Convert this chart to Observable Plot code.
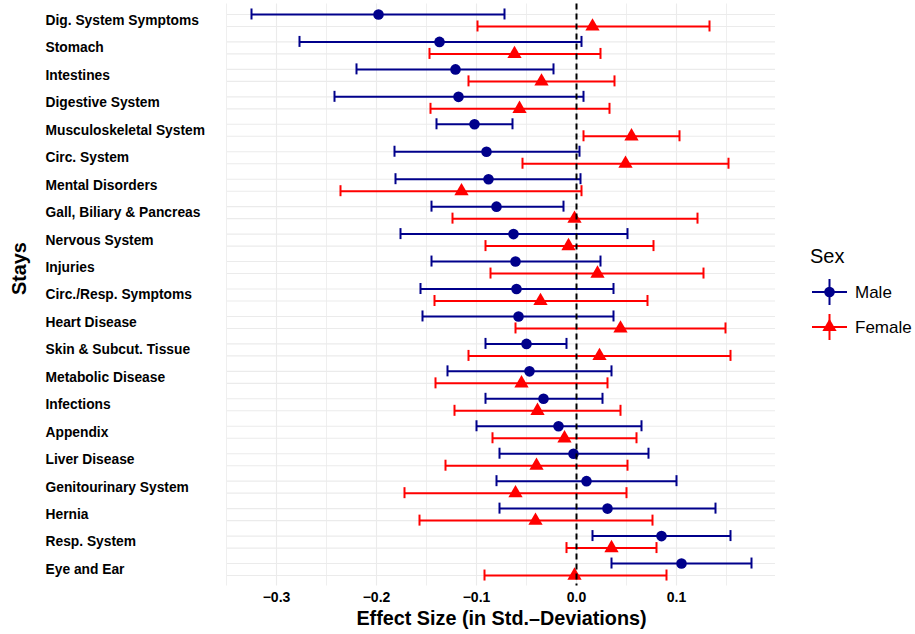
<!DOCTYPE html>
<html><head><meta charset="utf-8">
<script src="https://cdn.jsdelivr.net/npm/d3@7"></script>
<script src="https://cdn.jsdelivr.net/npm/@observablehq/plot@0.6"></script>
<style>
body{margin:0;background:#fff;font-family:"Liberation Sans",Arial,Helvetica,sans-serif}
#wrap{position:relative;width:915px;height:634px}
</style>
</head><body><div id="wrap"></div>
<script>
const categories = ["Dig. System Symptoms","Stomach","Intestines","Digestive System","Musculoskeletal System","Circ. System","Mental Disorders","Gall, Biliary & Pancreas","Nervous System","Injuries","Circ./Resp. Symptoms","Heart Disease","Skin & Subcut. Tissue","Metabolic Disease","Infections","Appendix","Liver Disease","Genitourinary System","Hernia","Resp. System","Eye and Ear"];
const maleEst  = [-0.198,-0.137,-0.121,-0.118,-0.102,-0.090,-0.088,-0.080,-0.063,-0.061,-0.060,-0.058,-0.050,-0.047,-0.033,-0.018,-0.003,0.010,0.031,0.085,0.105];
const maleLow  = [-0.325,-0.277,-0.220,-0.242,-0.140,-0.182,-0.181,-0.145,-0.176,-0.145,-0.156,-0.154,-0.091,-0.129,-0.091,-0.100,-0.077,-0.080,-0.077,0.016,0.035];
const maleHigh = [-0.072,0.005,-0.023,0.007,-0.064,0.003,0.004,-0.013,0.051,0.024,0.037,0.037,-0.010,0.035,0.026,0.065,0.072,0.100,0.139,0.154,0.175];
const femaleEst  = [0.016,-0.062,-0.035,-0.057,0.055,0.049,-0.115,-0.002,-0.008,0.021,-0.036,0.044,0.023,-0.055,-0.039,-0.012,-0.040,-0.061,-0.041,0.035,-0.002];
const femaleLow  = [-0.099,-0.147,-0.108,-0.146,0.007,-0.054,-0.236,-0.124,-0.091,-0.086,-0.142,-0.061,-0.108,-0.141,-0.122,-0.084,-0.131,-0.172,-0.157,-0.010,-0.092];
const femaleHigh = [0.133,0.024,0.038,0.033,0.103,0.152,0.005,0.121,0.077,0.127,0.071,0.149,0.154,0.031,0.044,0.060,0.051,0.050,0.076,0.080,0.090];
const xTicks = [-0.3,-0.2,-0.1,0.0,0.1];
const xMinor = [-0.35,-0.25,-0.15,-0.05,0.05,0.15];
const seriesNames = ["Male","Female"];
const seriesColors = ["#00008B","#FF0000"];
const seriesSymbols = ["circle","triangle"];

const male = categories.map((c,i)=>({cat:c, est:maleEst[i], lo:maleLow[i], hi:maleHigh[i]}));
const female = categories.map((c,i)=>({cat:c, est:femaleEst[i], lo:femaleLow[i], hi:femaleHigh[i]}));

const W = 915, H = 634, mL = 227, mR = 140, mT = 3.5, mB = 48.5;
const band = (H - mT - mB) / (categories.length + 0.2);
const DODGE = 6;
const capH = 11;
const capInset = (band - capH) / 2;
const font = "'Liberation Sans', Arial, Helvetica, sans-serif";

function seriesMarks(data, k, dy){
  const col = seriesColors[k];
  return [
    Plot.ruleY(data, {y:"cat", x1:"lo", x2:"hi", dy, stroke:col, strokeWidth:2}),
    Plot.tickX(data, {x:"lo", y:"cat", dy, stroke:col, strokeWidth:2, insetTop:capInset, insetBottom:capInset}),
    Plot.tickX(data, {x:"hi", y:"cat", dy, stroke:col, strokeWidth:2, insetTop:capInset, insetBottom:capInset})
  ];
}

const chart = Plot.plot({
  width: W, height: H,
  marginLeft: mL, marginRight: mR, marginTop: mT, marginBottom: mB,
  style: {fontFamily: font, background: "#fff", overflow: "visible"},
  x: {domain: [-0.349, 0.199], axis: null},
  y: {type: "band", domain: categories, paddingInner: 0, paddingOuter: 0.1, round: false, axis: null},
  marks: [
    Plot.ruleX(xMinor, {x: d=>d, stroke: "#ebebeb", strokeWidth: 0.8}),
    Plot.ruleX(xTicks, {x: d=>d, stroke: "#ebebeb", strokeWidth: 1.1}),
    Plot.ruleY(categories, {y: d=>d, dy: -DODGE, stroke: "#ebebeb", strokeWidth: 1.1}),
    Plot.ruleY(categories, {y: d=>d, dy: DODGE, stroke: "#ebebeb", strokeWidth: 1.1}),
    ...seriesMarks(male, 0, -DODGE),
    ...seriesMarks(female, 1, DODGE),
    Plot.dot(male, {x:"est", y:"cat", dy:-DODGE, r:5.3, fill:seriesColors[0], symbol:seriesSymbols[0]}),
    Plot.dot(female, {x:"est", y:"cat", dy:DODGE, r:5.3, fill:seriesColors[1], symbol:seriesSymbols[1]}),
    Plot.ruleX([0], {x: d=>d, stroke: "#000", strokeWidth: 2, strokeDasharray: "6,4"}),
    Plot.text(categories, {y: d=>d, text: d=>d, frameAnchor: "left", textAnchor: "start", dx: 45 - mL, fontWeight: "bold", fontSize: 13.8, fill: "#000"}),
    Plot.text(xTicks, {x: d=>d, text: d3.format(".1f"), frameAnchor: "bottom", lineAnchor: "top", dy: 6, fontWeight: "bold", fontSize: 14, fill: "#000"}),
    Plot.text(["Effect Size (in Std.\u2013Deviations)"], {text: d=>d, frameAnchor: "bottom", lineAnchor: "top", dy: 25, fontWeight: "bold", fontSize: 19.8, fill: "#000"}),
    Plot.text(["Stays"], {text: d=>d, frameAnchor: "left", rotate: -90, dx: 19 - mL, fontWeight: "bold", fontSize: 19.8, fill: "#000"})
  ]
});
document.getElementById("wrap").appendChild(chart);

// legend
const svg = d3.select(chart);
const lg = svg.append("g").attr("font-family", font).attr("text-anchor", "start");
lg.append("text").attr("x", 810).attr("y", 263).attr("font-size", 20).attr("fill", "#000").text("Sex");
const keyY = [292, 327];
seriesNames.forEach((name, k) => {
  const cy = keyY[k], cx = 829.5, col = seriesColors[k];
  lg.append("line").attr("x1", 812).attr("x2", 847).attr("y1", cy).attr("y2", cy).attr("stroke", col).attr("stroke-width", 2);
  lg.append("line").attr("x1", cx).attr("x2", cx).attr("y1", cy - 13).attr("y2", cy + 13).attr("stroke", col).attr("stroke-width", 2);
  const sym = k === 0 ? d3.symbolCircle : d3.symbolTriangle;
  lg.append("path").attr("d", d3.symbol(sym, Math.PI * 5.3 * 5.3)()).attr("transform", `translate(${cx},${cy})`).attr("fill", col);
  lg.append("text").attr("x", 855).attr("y", cy + 6).attr("font-size", 17).attr("fill", "#000").text(name);
});
</script>
</body></html>
